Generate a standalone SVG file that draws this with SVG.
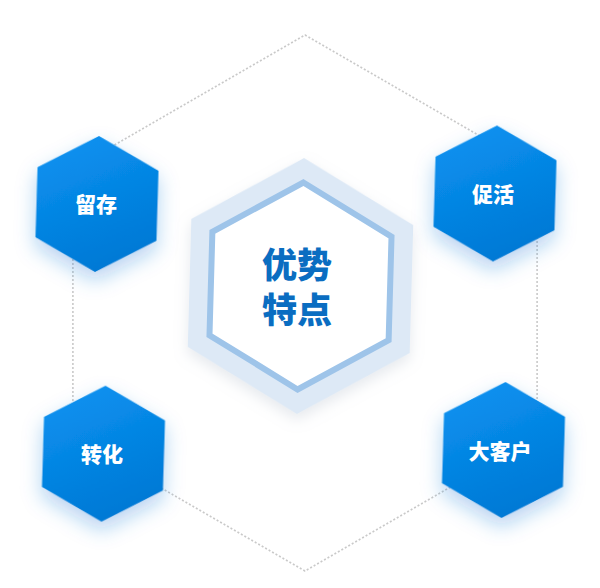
<svg xmlns="http://www.w3.org/2000/svg" width="600" height="588" viewBox="0 0 600 588">
  <defs>
    <linearGradient id="blueGrad" x1="0.3" y1="0" x2="0.7" y2="1">
      <stop offset="0" stop-color="#0a91f0"/>
      <stop offset="1" stop-color="#0077d3"/>
    </linearGradient>
    <filter id="blueShadow" x="-50%" y="-50%" width="200%" height="200%">
      <feDropShadow dx="0" dy="9" stdDeviation="10" flood-color="#1a78d6" flood-opacity="0.32"/>
    </filter>
    <filter id="greyShadow" x="-30%" y="-30%" width="160%" height="160%">
      <feDropShadow dx="0" dy="6" stdDeviation="7" flood-color="#9aa8b8" flood-opacity="0.25"/>
    </filter>
    <polygon id="smallHex" points="0,-68 60.5,-35 60.5,35 0,68 -60.5,35 -60.5,-35"/>
  </defs>
  <style>
    .dotted { fill: none; stroke: #c9c9c9; stroke-width: 1.6; stroke-dasharray: 2 2; }
    .node { fill: url(#blueGrad); filter: url(#blueShadow); }
    .label { font-family: "Noto Sans CJK SC", "Noto Sans", sans-serif; font-weight: 900; font-size: 21px; fill: #ffffff; text-anchor: middle; }
    .title { font-family: "Noto Sans CJK SC", "Noto Sans", sans-serif; font-weight: 900; font-size: 35px; fill: #0a6dc1; text-anchor: middle; }
  </style>

  <g id="connectors">
    <polygon class="dotted" points="305,35 537.1,169 537.1,437 305,571 72.9,437 72.9,169"/>
  </g>

  <g id="center">
    <g transform="translate(300.5,286) rotate(1.6)">
      <polygon points="0,-128 111,-64 111,64 0,128 -111,64 -111,-64" fill="#dde9f6" filter="url(#greyShadow)"/>
      <polygon points="0,-103.5 89.6,-51.75 89.6,51.75 0,103.5 -89.6,51.75 -89.6,-51.75" fill="#ffffff" stroke="#9ec4e9" stroke-width="6"/>
    </g>
    <text class="title"><tspan x="297" y="278">优势</tspan><tspan x="297" y="323">特点</tspan></text>
  </g>

  <g id="node-liucun">
    <use href="#smallHex" class="node" transform="translate(97,204) rotate(1.7)"/>
    <text class="label" x="96" y="212">留存</text>
  </g>

  <g id="node-cuhuo">
    <use href="#smallHex" class="node" transform="translate(495,193.5) rotate(1.7)"/>
    <text class="label" x="493" y="202">促活</text>
  </g>

  <g id="node-zhuanhua">
    <use href="#smallHex" class="node" transform="translate(103.5,453.7) rotate(1.7)"/>
    <text class="label" x="102" y="462">转化</text>
  </g>

  <g id="node-dakehu">
    <use href="#smallHex" class="node" transform="translate(503.5,450) rotate(1.7)"/>
    <text class="label" x="500" y="459">大客户</text>
  </g>
</svg>
